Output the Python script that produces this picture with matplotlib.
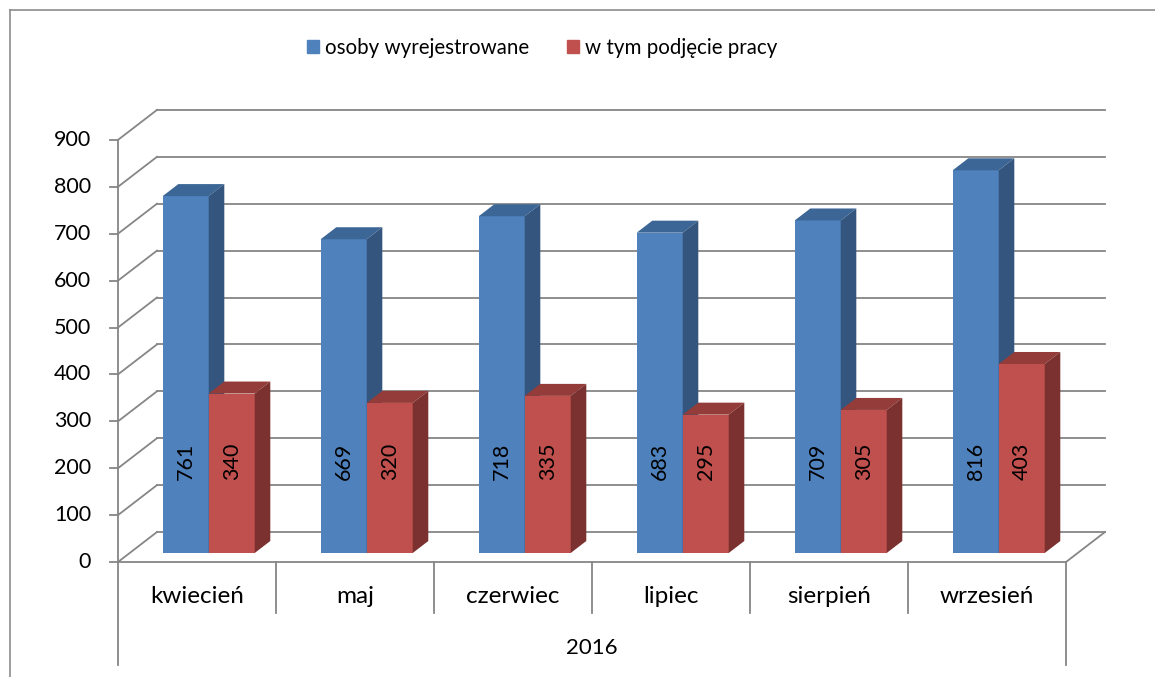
import numpy as np
import matplotlib.pyplot as plt
from matplotlib.patches import Polygon, Patch
from matplotlib.lines import Line2D

months = ['kwiecień', 'maj', 'czerwiec', 'lipiec', 'sierpień', 'wrzesień']
year_label = '2016'
wyrejestrowane = [761, 669, 718, 683, 709, 816]
podjecie_pracy = [340, 320, 335, 295, 305, 403]
y_ticks = [0, 100, 200, 300, 400, 500, 600, 700, 800, 900]
series_names = ['osoby wyrejestrowane', 'w tym podjęcie pracy']

plt.rcParams['font.family'] = ['Lato', 'DejaVu Sans']

W, H = 1155, 677
fig = plt.figure(figsize=(W / 100, H / 100), dpi=100)
ax = fig.add_axes([0, 0, 1, 1])
ax.axis('off')

# pixel geometry of the plot box (x: category units, y: values)
px_cat = 158.0
px_val = 0.469
x0_px, y0_px = 118.0, 562.0
ax.set_xlim(-x0_px / px_cat, (W - x0_px) / px_cat)
ax.set_ylim((y0_px - H) / px_val, y0_px / px_val)

# depth vector of the 3d box
DX = 39.0 / px_cat
DV = 30.0 / px_val
n = len(months)
grid_c = '#868686'


def proj(x, v, d):
    return x + DX * d, v + DV * d


# back wall and left wall gridlines
for v in y_ticks:
    xa, va = proj(0, v, 1)
    xb, vb = proj(n, v, 1)
    ax.plot([xa, xb], [va, vb], color=grid_c, lw=1.3, zorder=1)
    xc, vc = proj(0, v, 0)
    ax.plot([xc, xa], [vc, va], color=grid_c, lw=1.3, zorder=1)
    ax.plot([-8 / px_cat, 0], [v, v], color=grid_c, lw=1.3, zorder=1)
    ax.text(-27 / px_cat, v, str(v), ha='right', va='center', fontsize=15.5)

# value axis and floor
ax.plot([0, 0], [0, y_ticks[-1]], color=grid_c, lw=1.3, zorder=1)
ax.plot([0, n], [0, 0], color=grid_c, lw=1.3, zorder=1)
xr, vr = proj(n, 0, 1)
ax.plot([n, xr], [0, vr], color=grid_c, lw=1.3, zorder=1)

# category separators
for i in range(n + 1):
    bottom = -219.6 if i in (0, n) else -108.7
    ax.plot([i, i], [0, bottom], color=grid_c, lw=1.3, zorder=1)
for i, m in enumerate(months):
    ax.text(i + 0.5, -74.6, m, ha='center', va='center', fontsize=17.5)
ax.text(n / 2, -183.4, year_label, ha='center', va='center', fontsize=16)

# bars
bw = 46.0 / px_cat
d0, d1 = 0.3, 0.7
styles = [('#4F81BD', '#3C6696', '#33557E'), ('#C0504D', '#933C39', '#7B312F')]
centers = np.arange(n) + 0.5
z = 2
for i in range(n):
    for k, vals in enumerate([wyrejestrowane, podjecie_pracy]):
        front, top, side = styles[k]
        left = centers[i] - bw + k * bw
        v = vals[i]
        fx, fv = proj(left, 0, d0)
        ax.bar(fx, v, width=bw, bottom=fv, align='edge', color=front,
               edgecolor='none', zorder=z)
        # top face
        p = [proj(left, v, d0), proj(left + bw, v, d0),
             proj(left + bw, v, d1), proj(left, v, d1)]
        ax.add_patch(Polygon(p, closed=True, fc=top, ec='none', zorder=z))
        # side face
        p = [proj(left + bw, 0, d0), proj(left + bw, v, d0),
             proj(left + bw, v, d1), proj(left + bw, 0, d1)]
        ax.add_patch(Polygon(p, closed=True, fc=side, ec='none', zorder=z))
        tx, tv = proj(left + bw / 2, 195, d0)
        ax.text(tx, tv, str(v), rotation=90, ha='center', va='center',
                fontsize=15.5, zorder=z + 1)
        z += 2

# legend
handles = [Patch(color=styles[0][0]), Patch(color=styles[1][0])]
fig.legend(handles, series_names, loc='center', bbox_to_anchor=(542 / W, 1 - 48 / H),
           ncol=2, frameon=False, fontsize=14.8, handlelength=0.58, handleheight=0.58,
           handletextpad=0.3, columnspacing=1.85)

# outer border
fig.add_artist(Line2D([10 / W, 1], [1 - 9.5 / H, 1 - 9.5 / H], color='#8C8C8C', lw=1.2))
fig.add_artist(Line2D([10 / W, 10 / W], [0, 1 - 9.5 / H], color='#8C8C8C', lw=1.2))

fig.savefig('out.png', dpi=100)
